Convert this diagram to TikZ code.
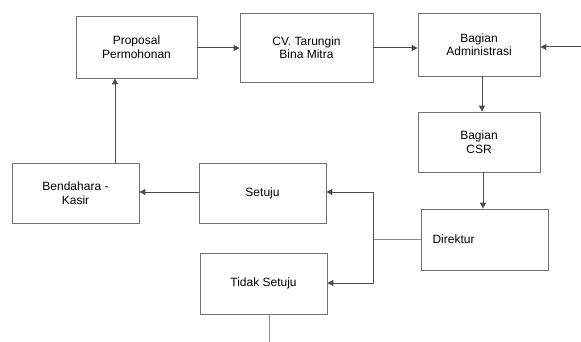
\documentclass[tikz,border=0pt]{standalone}
\usepackage{fontspec}
\setmainfont{Liberation Sans}
\usetikzlibrary{arrows.meta}
\begin{document}
\begin{tikzpicture}[x=1pt,y=-1pt,
  box/.style={draw=black!55, line width=0.9pt, inner sep=0pt, align=center, font=\fontsize{12}{13.5}\selectfont},
  arr/.style={draw=black!70, line width=1pt, -{Triangle[length=6pt,width=6pt]}},
  ln/.style={draw=black!45, line width=0.9pt}]
\useasboundingbox (0,0) rectangle (581,342);
\node[box, minimum width=121pt, minimum height=62pt] (prop) at (136.5,47) {Proposal\\Permohonan};
\node[box, minimum width=133pt, minimum height=69pt] (cv) at (306.5,47.5) {CV. Tarungin\\Bina Mitra};
\node[box, minimum width=122pt, minimum height=63pt] (adm) at (479,44.5) {Bagian\\Administrasi};
\node[box, minimum width=122pt, minimum height=60pt] (csr) at (479,142) {Bagian\\CSR};
\node[box, minimum width=127pt, minimum height=61pt, text width=104pt, align=left] (dir) at (484.5,239.5) {Direktur};
\node[box, minimum width=127pt, minimum height=60pt] (set) at (262.5,193) {Setuju};
\node[box, minimum width=127pt, minimum height=60pt] (ben) at (75.5,193) {Bendahara -\\Kasir};
\node[box, minimum width=127pt, minimum height=61pt] (tid) at (263.5,283.5) {Tidak Setuju};
\coordinate (rin) at (581,47);
\coordinate (bot) at (269,342);
\coordinate (j) at (373,239);

\draw[arr] (prop.east |- 0,48) -- (cv.west |- 0,48);
\draw[arr] (cv.east |- 0,48) -- (adm.west |- 0,48);
\draw[arr] (rin) -- (adm.east |- rin);
\draw[arr] (adm.south -| 482,0) -- (csr.north -| 482,0);
\draw[arr] (csr.south -| 483,0) -- (dir.north -| 483,0);
\draw[arr] (ben.north -| 115,0) -- (prop.south -| 115,0);
\draw[arr] (set.west |- 0,192) -- (ben.east |- 0,192);
\draw[ln] (dir.west |- j) -- (j);
\draw[arr] (j) -- (373,192) -- (set.east |- 0,192);
\draw[arr] (j) -- (373,283) -- (tid.east |- 0,283);
\draw[ln] (tid.south -| bot) -- (bot);
\end{tikzpicture}
\end{document}
